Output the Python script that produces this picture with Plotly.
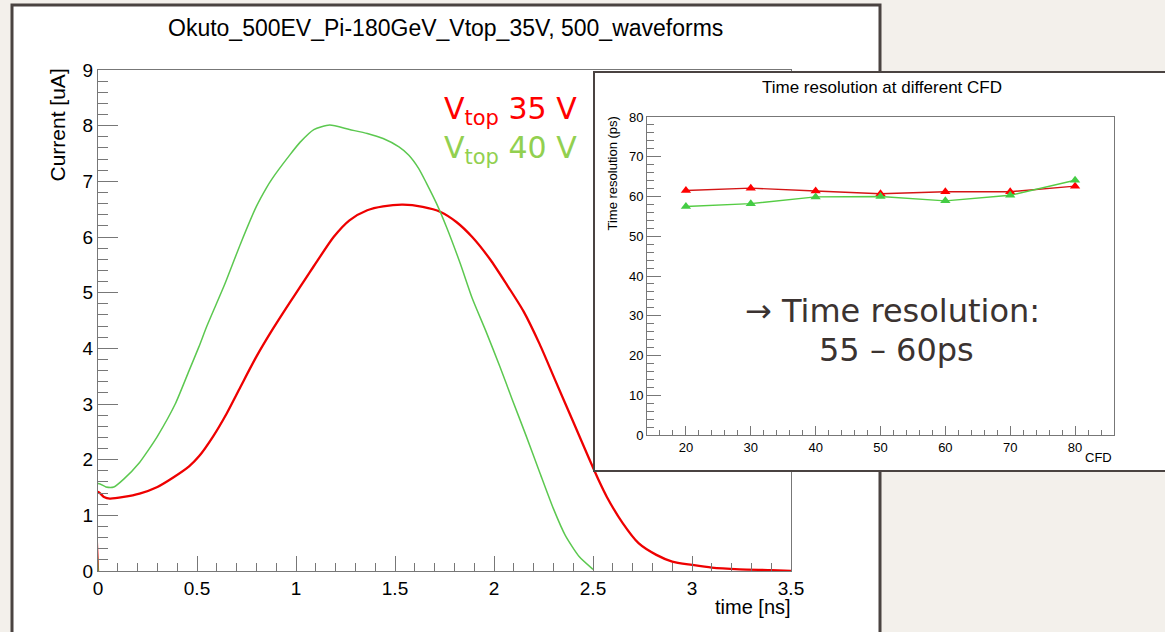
import plotly.graph_objects as go

W, H = 1165, 632


def px(x):
    return x / W


def py(y):
    return 1 - y / H


# ---- main waveform data (time in ns, current in uA) ----
t_35 = [0.0, 0.0, 0.03, 0.06, 0.13, 0.21, 0.30, 0.38, 0.46, 0.51,
        0.58, 0.65, 0.72, 0.80, 0.88, 0.97, 1.02, 1.07, 1.10, 1.19,
        1.27, 1.36, 1.44, 1.54, 1.64, 1.73, 1.81, 1.89, 1.98, 2.06,
        2.15, 2.23, 2.31, 2.40, 2.48, 2.53, 2.57, 2.65, 2.73, 2.82,
        2.90, 3.00, 3.10, 3.24, 3.40, 3.50]
i_35 = [0.0, 1.42, 1.33, 1.30, 1.33, 1.39, 1.51, 1.68, 1.88, 2.06,
        2.41, 2.83, 3.31, 3.85, 4.33, 4.83, 5.10, 5.37, 5.53, 6.00,
        6.30, 6.48, 6.55, 6.58, 6.54, 6.45, 6.27, 6.00, 5.60, 5.17,
        4.66, 4.08, 3.42, 2.68, 2.02, 1.62, 1.33, 0.86, 0.50, 0.29,
        0.17, 0.11, 0.06, 0.03, 0.015, 0.0]

t_40 = [0.0, 0.0, 0.04, 0.08, 0.13, 0.21, 0.25, 0.30, 0.39, 0.46,
        0.51, 0.55, 0.64, 0.72, 0.80, 0.85, 0.88, 0.97, 1.02, 1.09,
        1.17, 1.27, 1.36, 1.44, 1.52, 1.57, 1.62, 1.66, 1.71, 1.76,
        1.83, 1.89, 1.96, 2.03, 2.09, 2.16, 2.23, 2.30, 2.36, 2.43,
        2.50]
i_40 = [0.0, 1.57, 1.51, 1.51, 1.65, 1.95, 2.15, 2.42, 3.00, 3.60,
        4.03, 4.40, 5.15, 5.88, 6.55, 6.88, 7.05, 7.48, 7.70, 7.93,
        8.01, 7.93, 7.86, 7.77, 7.62, 7.47, 7.23, 6.96, 6.60, 6.18,
        5.52, 4.90, 4.30, 3.67, 3.10, 2.45, 1.78, 1.12, 0.64, 0.26,
        0.03]

# ---- inset data ----
cfd = [20, 30, 40, 50, 60, 70, 80]
res_35 = [61.5, 62.1, 61.4, 60.7, 61.2, 61.2, 62.6]
res_40 = [57.5, 58.2, 59.9, 60.0, 58.9, 60.3, 64.1]

RED = "#ee0000"
GREEN = "#5cc850"
AX = "#777777"
FONT = "Liberation Sans, Arial, sans-serif"
SLIDE_FONT = "DejaVu Sans, sans-serif"
BORDER = "#4a4341"
PAGE_BG = "#f3f0eb"

fig = go.Figure()

fig.add_trace(go.Scatter(x=t_35, y=i_35, mode="lines", xaxis="x", yaxis="y",
                         line=dict(color=RED, width=2.3, shape="spline", smoothing=0.7),
                         showlegend=False, hoverinfo="skip"))
fig.add_trace(go.Scatter(x=t_40, y=i_40, mode="lines", xaxis="x", yaxis="y",
                         line=dict(color=GREEN, width=1.5, shape="spline", smoothing=0.6),
                         showlegend=False, hoverinfo="skip"))

# empty cover subplot (white box behind the inset)
fig.add_trace(go.Scatter(x=[None], y=[None], xaxis="x2", yaxis="y2",
                         showlegend=False, hoverinfo="skip"))

fig.add_trace(go.Scatter(x=cfd, y=res_35, mode="lines+markers", xaxis="x3", yaxis="y3",
                         line=dict(color="#d41515", width=1.4),
                         marker=dict(symbol="triangle-up", size=9, color="#ff0000", line=dict(width=0)),
                         showlegend=False, hoverinfo="skip"))
fig.add_trace(go.Scatter(x=cfd, y=res_40, mode="lines+markers", xaxis="x3", yaxis="y3",
                         line=dict(color="#55cc44", width=1.4),
                         marker=dict(symbol="triangle-up", size=9, color="#44cc44", line=dict(width=0)),
                         showlegend=False, hoverinfo="skip"))

common = dict(showgrid=False, zeroline=False, showline=True, linecolor=AX, linewidth=1,
              mirror=True, ticks="inside", tickcolor=AX, tickwidth=1, automargin=False)

fig.update_layout(
    width=W, height=H,
    autosize=False,
    showlegend=False,
    margin=dict(l=0, r=0, t=0, b=0, pad=0, autoexpand=False),
    paper_bgcolor=PAGE_BG,
    plot_bgcolor="#ffffff",
    xaxis=dict(domain=[px(98), px(791)], range=[0, 3.5], tick0=0, dtick=0.5, ticklen=15,
               minor=dict(dtick=0.1, ticks="inside", ticklen=8, tickcolor=AX),
               tickfont=dict(family=FONT, size=19, color="black"), anchor="y", **common),
    yaxis=dict(domain=[py(571), py(70)], range=[0, 9], tick0=0, dtick=1, ticklen=20,
               minor=dict(dtick=0.2, ticks="inside", ticklen=10, tickcolor=AX),
               tickfont=dict(family=FONT, size=19, color="black"), anchor="x", **common),
    xaxis2=dict(domain=[px(594), 1.0], range=[0, 1], visible=False, anchor="y2"),
    yaxis2=dict(domain=[py(471), py(72)], range=[0, 1], visible=False, anchor="x2"),
    xaxis3=dict(domain=[px(647), px(1114)], range=[14, 86], tick0=20, dtick=10, ticklen=9,
                minor=dict(dtick=2, ticks="inside", ticklen=5, tickcolor=AX),
                tickfont=dict(family=FONT, size=13, color="black"), anchor="y3", **common),
    yaxis3=dict(domain=[py(435), py(117)], range=[0, 80], tick0=0, dtick=10, ticklen=14,
                minor=dict(dtick=2, ticks="inside", ticklen=7, tickcolor=AX),
                tickfont=dict(family=FONT, size=13, color="black"), anchor="x3", **common),
)

fig.add_shape(type="rect", xref="paper", yref="paper", layer="below",
              x0=px(12), x1=px(880), y0=py(645), y1=py(5),
              fillcolor="white", line=dict(color=BORDER, width=3))
fig.add_shape(type="rect", xref="paper", yref="paper", layer="above",
              x0=px(594), x1=px(1180), y0=py(471), y1=py(72),
              fillcolor="rgba(0,0,0,0)", line=dict(color=BORDER, width=2))

ann = [
    dict(text="Okuto_500EV_Pi-180GeV_Vtop_35V, 500_waveforms", x=px(445.5), y=py(28),
         xanchor="center", yanchor="middle", font=dict(family=FONT, size=23, color="black")),
    dict(text="Current [uA]", x=px(57), y=py(125.5), textangle=-90,
         xanchor="center", yanchor="middle", font=dict(family=FONT, size=21, color="black")),
    dict(text="time [ns]", x=px(793), y=py(607), xanchor="right", yanchor="middle",
         font=dict(family=FONT, size=20, color="black")),
    dict(text="Time resolution at different CFD", x=px(882), y=py(87),
         xanchor="center", yanchor="middle", font=dict(family=FONT, size=17, color="black")),
    dict(text="Time resolution (ps)", x=px(612), y=py(173.5), textangle=-90,
         xanchor="center", yanchor="middle", font=dict(family=FONT, size=13, color="black")),
    dict(text="CFD", x=px(1114), y=py(457), xanchor="right", yanchor="middle",
         font=dict(family=FONT, size=13, color="black")),
    dict(text="V<sub>top</sub> 35 V", x=px(442), y=py(110), xanchor="left", yanchor="middle",
         font=dict(family=SLIDE_FONT, size=30, color="#ff0000")),
    dict(text="V<sub>top</sub> 40 V", x=px(442), y=py(150), xanchor="left", yanchor="middle",
         font=dict(family=SLIDE_FONT, size=30, color="#92d050")),
    dict(text="\u2192 Time resolution:", x=px(743), y=py(311), xanchor="left", yanchor="middle",
         font=dict(family=SLIDE_FONT, size=32, color="#3b3331")),
    dict(text="55 \u2013 60ps", x=px(817), y=py(350), xanchor="left", yanchor="middle",
         font=dict(family=SLIDE_FONT, size=32, color="#3b3331")),
]
for a in ann:
    a.update(xref="paper", yref="paper", showarrow=False)
    fig.add_annotation(**a)

fig.write_html(
    "out.html",
    config={"displayModeBar": False},
    post_script="document.body.style.margin='0';document.body.style.background='%s';" % PAGE_BG,
)
